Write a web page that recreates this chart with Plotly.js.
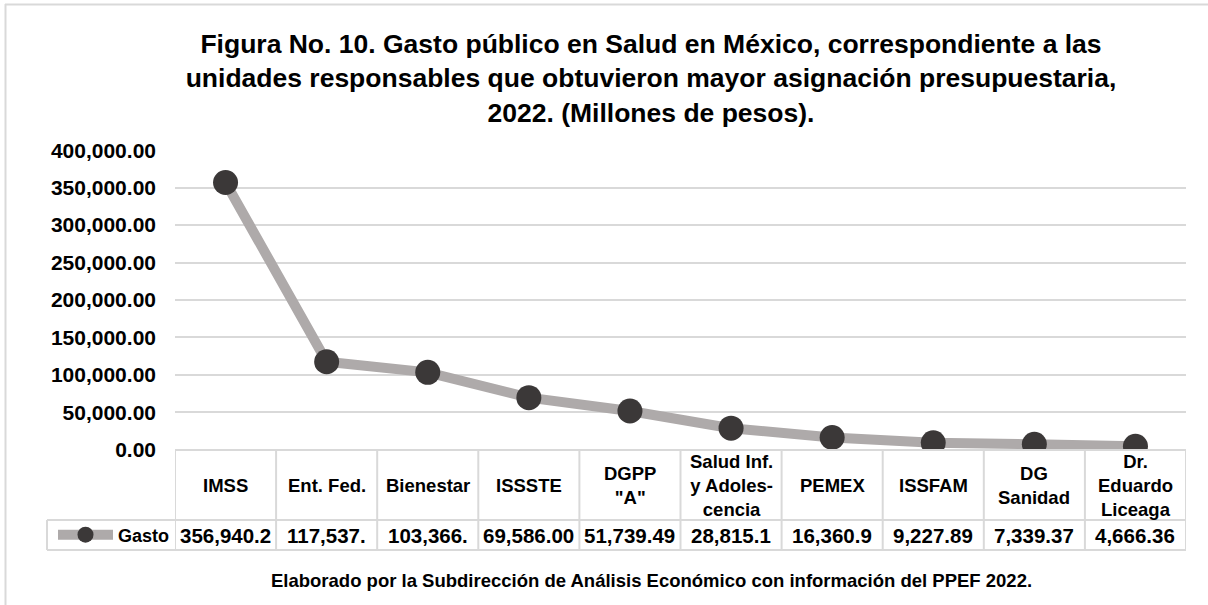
<!DOCTYPE html>
<html>
<head>
<meta charset="utf-8">
<script src="https://cdn.plot.ly/plotly-3.0.1.min.js"></script>
<style>
  html, body { margin: 0; padding: 0; background: #ffffff; }
  #chart { width: 1208px; height: 605px; }
</style>
</head>
<body>
<div id="chart"></div>
<script>
// ---- Data ----
const categories = ['IMSS', 'Ent. Fed.', 'Bienestar', 'ISSSTE', 'DGPP "A"',
  'Salud Inf. y Adolescencia', 'PEMEX', 'ISSFAM', 'DG Sanidad', 'Dr. Eduardo Liceaga'];
const headerLabels = ['IMSS', 'Ent. Fed.', 'Bienestar', 'ISSSTE', 'DGPP<br>"A"',
  'Salud Inf.<br>y Adoles-<br>cencia', 'PEMEX', 'ISSFAM', 'DG<br>Sanidad', 'Dr.<br>Eduardo<br>Liceaga'];
const gasto = [356940.2, 117537, 103366, 69586.00, 51739.49, 28815.1, 16360.9, 9227.89, 7339.37, 4666.36];
const gastoLabels = ['356,940.2', '117,537.', '103,366.', '69,586.00', '51,739.49',
  '28,815.1', '16,360.9', '9,227.89', '7,339.37', '4,666.36'];
const seriesName = 'Gasto';
const yTicks = [0, 50000, 100000, 150000, 200000, 250000, 300000, 350000, 400000];

const titleText = 'Figura No. 10. Gasto público en Salud en México, correspondiente a las<br>' +
  'unidades responsables que obtuvieron mayor asignación presupuestaria,<br>' +
  '2022. (Millones de pesos).';
const footerText = 'Elaborado por la Subdirección de Análisis Económico con información del PPEF 2022.';

// ---- Layout geometry ----
const W = 1208, H = 605;
const M = { l: 175, r: 22, t: 150, b: 155 };
const plotW = W - M.l - M.r;
const plotH = H - M.t - M.b;
const py = (px) => (H - M.b - px) / plotH;      // pixel y -> paper y
const pxX = (px) => (px - M.l) / plotW;        // pixel x -> paper x

const FONT = 'Liberation Sans, Arial, sans-serif';
const gridColor = '#d9d9d9';

const trace = {
  type: 'scatter',
  mode: 'lines+markers',
  name: seriesName,
  x: categories.map((c, i) => i),
  y: gasto,
  line: { color: '#aeaaaa', width: 10 },
  marker: { color: '#3b3838', size: 25, line: { width: 0 } },
  hoverinfo: 'y'
};

const rowTop = 450, rowMid = 520, rowBot = 550, legLeft = 47;
const shapes = [];
const gl = { color: gridColor, width: 2 };
// table horizontal lines
shapes.push({ type: 'line', xref: 'paper', yref: 'paper', x0: 0, x1: 1, y0: py(rowTop), y1: py(rowTop), line: gl });
shapes.push({ type: 'line', xref: 'paper', yref: 'paper', x0: pxX(legLeft), x1: 1, y0: py(rowMid), y1: py(rowMid), line: gl });
shapes.push({ type: 'line', xref: 'paper', yref: 'paper', x0: pxX(legLeft), x1: 1, y0: py(rowBot), y1: py(rowBot), line: gl });
shapes.push({ type: 'line', xref: 'paper', yref: 'paper', x0: pxX(legLeft), x1: pxX(legLeft), y0: py(rowMid), y1: py(rowBot), line: gl });
// table vertical lines at category boundaries
for (let i = 0; i <= categories.length; i++) {
  shapes.push({ type: 'line', xref: 'x', yref: 'paper', x0: i - 0.5, x1: i - 0.5, y0: py(rowTop), y1: py(rowBot), line: gl });
}
// outer chart border (top and left visible)
shapes.push({ type: 'line', xref: 'paper', yref: 'paper', x0: pxX(5), x1: pxX(1215), y0: py(4.5), y1: py(4.5), line: gl });
shapes.push({ type: 'line', xref: 'paper', yref: 'paper', x0: pxX(5.5), x1: pxX(5.5), y0: py(4), y1: py(615), line: gl });

const annotations = [];
headerLabels.forEach((t, i) => {
  annotations.push({ xref: 'x', yref: 'paper', x: i, y: py((rowTop + rowMid) / 2), text: t, showarrow: false,
    xanchor: 'center', yanchor: 'middle', align: 'center',
    font: { family: FONT, size: 18.5, color: '#000', weight: 'bold' } });
});
gastoLabels.forEach((t, i) => {
  annotations.push({ xref: 'x', yref: 'paper', x: i, y: py((rowMid + rowBot) / 2), text: t, showarrow: false,
    xanchor: 'center', yanchor: 'middle',
    font: { family: FONT, size: 20.5, color: '#000', weight: 'bold' } });
});
annotations.push({ xref: 'paper', yref: 'paper', x: pxX(651), y: py(580), text: footerText, showarrow: false,
  xanchor: 'center', yanchor: 'middle', font: { family: FONT, size: 18.5, color: '#000', weight: 'bold' } });

const layout = {
  width: W, height: H,
  margin: M,
  paper_bgcolor: '#ffffff', plot_bgcolor: '#ffffff',
  title: { text: titleText, xref: 'container', yref: 'container', x: 651 / W, xanchor: 'center',
    y: 1 - 53 / H, yanchor: 'top',
    font: { family: FONT, size: 26.5, color: '#000', weight: 'bold' } },
  showlegend: true,
  legend: { x: pxX(53), xanchor: 'left', y: py((rowMid + rowBot) / 2), yanchor: 'middle',
    orientation: 'h', bgcolor: 'rgba(0,0,0,0)', itemwidth: 55,
    font: { family: FONT, size: 18, color: '#000', weight: 'bold' } },
  xaxis: { range: [-0.5, categories.length - 0.5], showgrid: false, zeroline: false, showline: false,
    showticklabels: false, ticks: '', fixedrange: true },
  yaxis: { range: [-300, 400300], tickvals: yTicks, tickformat: ',.2f', showgrid: true, gridcolor: gridColor, gridwidth: 2,
    zeroline: false, showline: false, ticks: '', ticklabelstandoff: 18,
    tickfont: { family: FONT, size: 21, color: '#000', weight: 'bold' }, fixedrange: true },
  shapes: shapes,
  annotations: annotations
};

Plotly.newPlot('chart', [trace], layout, { displayModeBar: false, staticPlot: true });
</script>
</body>
</html>
